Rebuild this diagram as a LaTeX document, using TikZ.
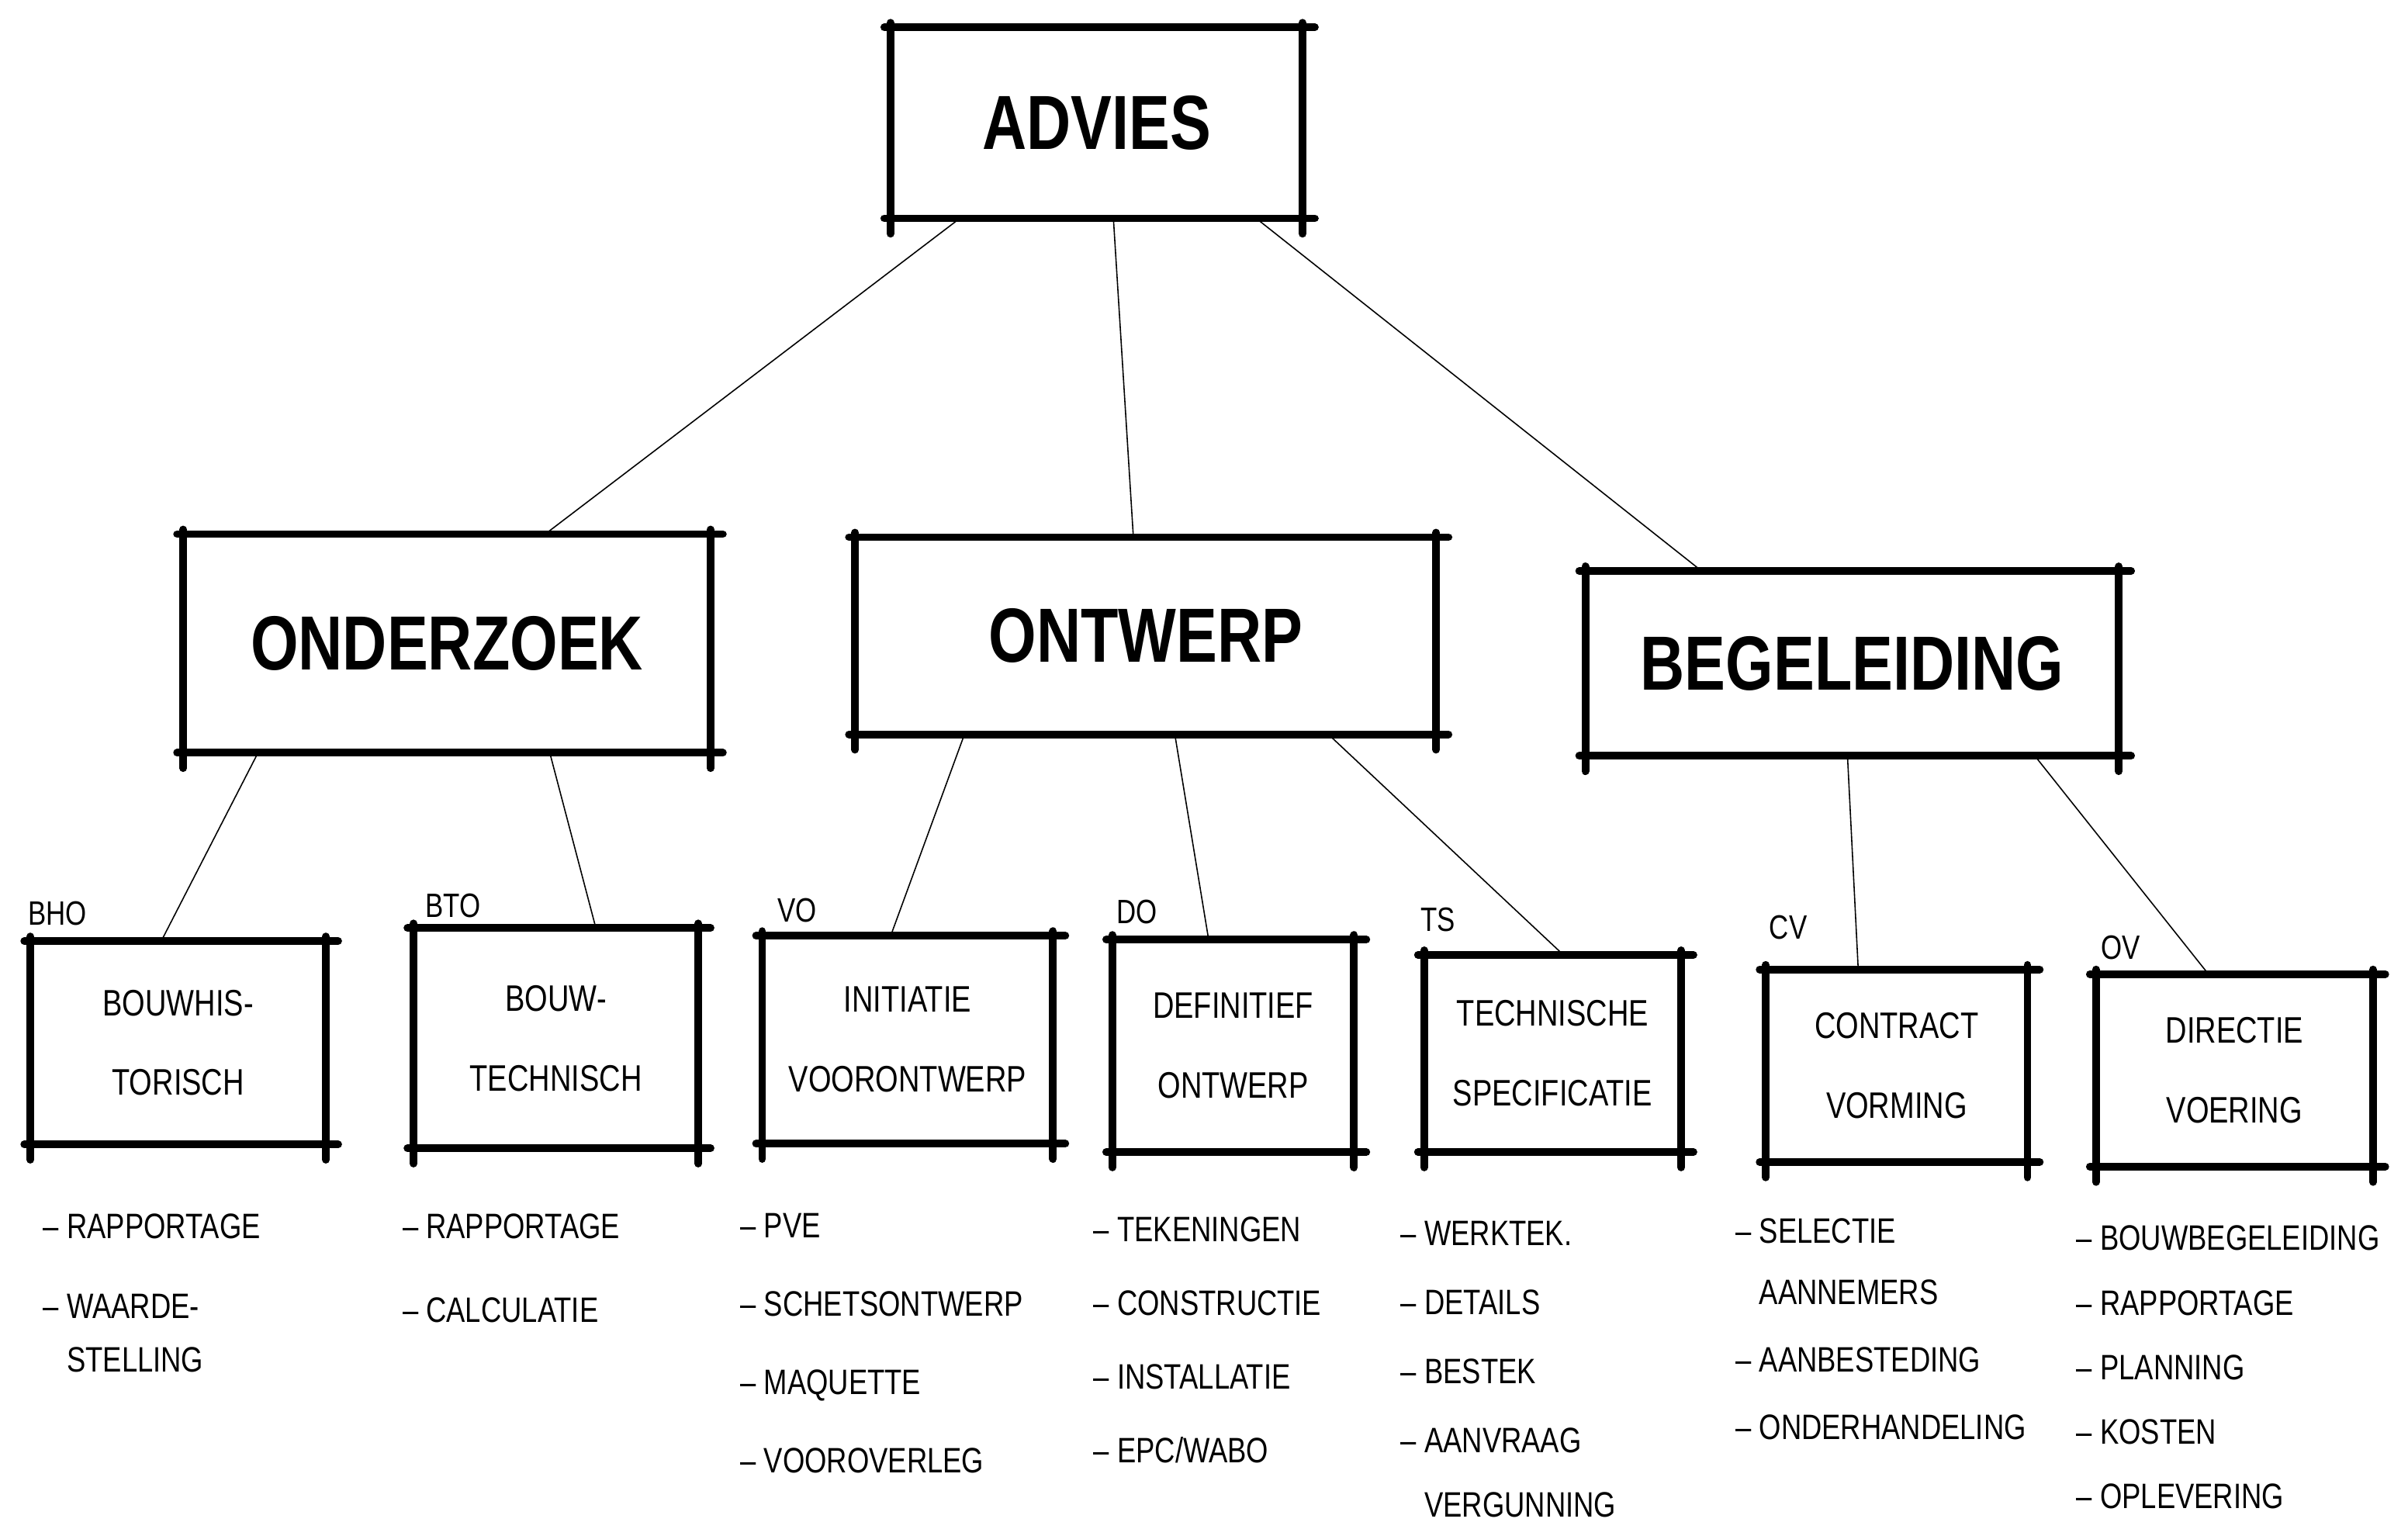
\documentclass[tikz,border=0pt]{standalone}
\usepackage{fontspec}
\newfontfamily\sketchfont[FakeStretch=0.8]{Liberation Sans}
\newcommand{\sketchframe}[1]{%
	\draw[frame] ([xshift=-4]#1.north west) -- ([xshift=8]#1.north east);
	\draw[frame] ([xshift=-4]#1.south west) -- ([xshift=8]#1.south east);
	\draw[frame] ([yshift=3]#1.north west) -- ([yshift=-10]#1.south west);
	\draw[frame] ([yshift=3]#1.north east) -- ([yshift=-10]#1.south east);
}
\begin{document}
\begin{tikzpicture}[x=1pt, y=-1pt,
	big/.style={inner sep=0, font=\sketchfont\bfseries\fontsize{50}{60}\selectfont},
	small/.style={inner sep=0, align=center, font=\sketchfont\fontsize{24}{52}\selectfont},
	code/.style={inner sep=0, anchor=south west, font=\sketchfont\fontsize{22}{26}\selectfont},
	list/.style={inner sep=0, anchor=north west, align=left, font=\sketchfont\fontsize{23}{#1}\selectfont},
	frame/.style={line width=5pt, line cap=round},
	link/.style={line width=0.8pt}]
	\useasboundingbox (0,0) rectangle (1568,1000);
	% main boxes
	\node[big, minimum width=268, minimum height=124] (advies) at (714,80) {ADVIES};
	\node[big, minimum width=343, minimum height=142] (onderzoek) at (291,419) {ONDERZOEK};
	\node[big, minimum width=378, minimum height=128] (ontwerp) at (746,414) {ONTWERP};
	\node[big, minimum width=347, minimum height=120] (begeleiding) at (1206,432) {BEGELEIDING};
	% phases
	\node[small, minimum width=192, minimum height=132] (bho) at (116,679) {BOUWHIS-\\TORISCH};
	\node[small, minimum width=185, minimum height=143] (bto) at (362,676) {BOUW-\\TECHNISCH};
	\node[small, minimum width=189, minimum height=135] (vo) at (591,677) {INITIATIE\\VOORONTWERP};
	\node[small, minimum width=157, minimum height=138] (do) at (803,681) {DEFINITIEF\\ONTWERP};
	\node[small, minimum width=167, minimum height=128] (ts) at (1011,686) {TECHNISCHE\\SPECIFICATIE};
	\node[small, minimum width=170, minimum height=125] (cv) at (1235,694) {CONTRACT\\VORMING};
	\node[small, minimum width=180, minimum height=125] (ov) at (1455,697) {DIRECTIE\\VOERING};
	\foreach \n in {advies,onderzoek,ontwerp,begeleiding,bho,bto,vo,do,ts,cv,ov}
		\sketchframe{\n};
	% codes
	\node[code] (bhocode) at (18,603) {BHO};
	\node[code] (btocode) at (277,598) {BTO};
	\node[code] (vocode) at (506,601) {VO};
	\node[code] (docode) at (727,602) {DO};
	\node[code] (tscode) at (925,607) {TS};
	\node[code] (cvcode) at (1152,612) {CV};
	\node[code] (ovcode) at (1368,625) {OV};
	% links
	\draw[link] ([xshift=-89]advies.south) -- ([xshift=64]onderzoek.north);
	\draw[link] ([xshift=11]advies.south) -- ([xshift=-8]ontwerp.north);
	\draw[link] ([xshift=104]advies.south) -- ([xshift=-98]begeleiding.north);
	\draw[link] ([xshift=-123]onderzoek.south) -- ([xshift=-11]bho.north);
	\draw[link] ([xshift=67]onderzoek.south) -- ([xshift=26]bto.north);
	\draw[link] ([xshift=-118]ontwerp.south) -- ([xshift=-11]vo.north);
	\draw[link] ([xshift=19]ontwerp.south) -- ([xshift=-16]do.north);
	\draw[link] ([xshift=119]ontwerp.south) -- ([xshift=7]ts.north);
	\draw[link] ([xshift=-3]begeleiding.south) -- ([xshift=-25]cv.north);
	\draw[link] ([xshift=119]begeleiding.south) -- ([xshift=-17]ov.north);
	% task lists
	\node[list=52] (bholist) at (28,790) {– RAPPORTAGE\\– WAARDE-\\[-17pt]\phantom{– }STELLING};
	\node[list=55] (btolist) at (262,790) {– RAPPORTAGE\\– CALCULATIE};
	\node[list=51] (volist) at (482,790) {– PVE\\– SCHETSONTWERP\\– MAQUETTE\\– VOOROVERLEG};
	\node[list=48] (dolist) at (712,792) {– TEKENINGEN\\– CONSTRUCTIE\\– INSTALLATIE\\– EPC/WABO};
	\node[list=45] (tslist) at (912,795) {– WERKTEK.\\– DETAILS\\– BESTEK\\– AANVRAAG\\[-3pt]\phantom{– }VERGUNNING};
	\node[list=44] (cvlist) at (1130,793) {– SELECTIE\\[-4pt]\phantom{– }AANNEMERS\\– AANBESTEDING\\– ONDERHANDELING};
	\node[list=42] (ovlist) at (1352,798) {– BOUWBEGELEIDING\\– RAPPORTAGE\\– PLANNING\\– KOSTEN\\– OPLEVERING};
\end{tikzpicture}
\end{document}
